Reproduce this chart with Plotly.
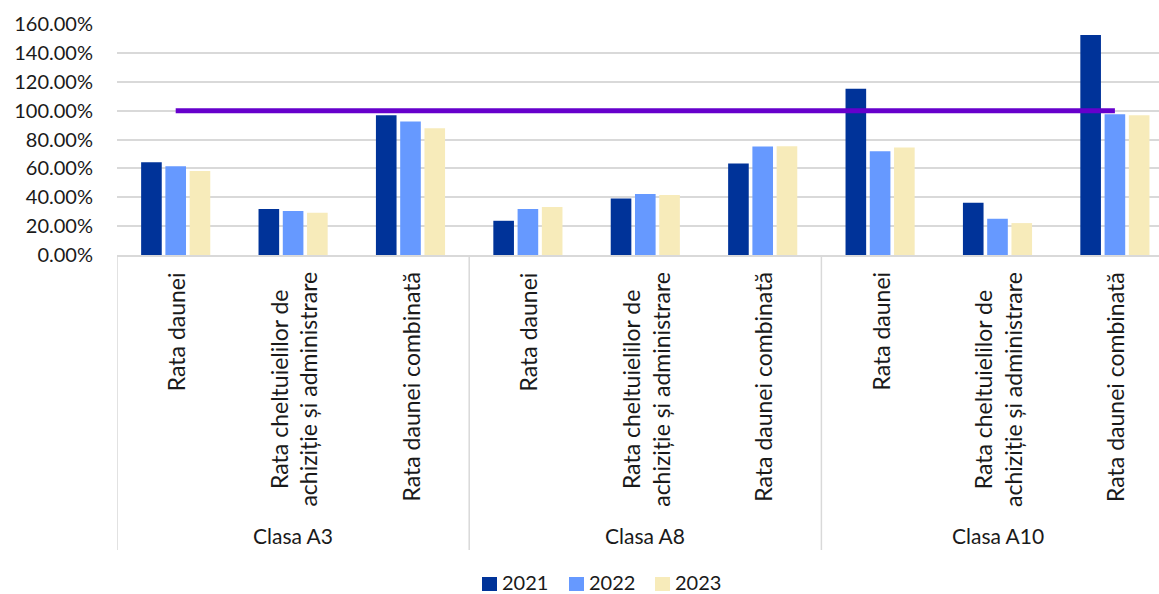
import plotly.graph_objects as go

# --- data -------------------------------------------------------------
grupe = ["Clasa A3", "Clasa A8", "Clasa A10"]
indicatori = [
    "Rata daunei",
    "Rata cheltuielilor de<br>achiziție și administrare",
    "Rata daunei combinată",
]
ani = ["2021", "2022", "2023"]

valori_2021 = [0.643, 0.318, 0.968, 0.237, 0.392, 0.634, 1.152, 0.362, 1.523]
valori_2022 = [0.615, 0.304, 0.924, 0.318, 0.422, 0.751, 0.719, 0.251, 0.975]
valori_2023 = [0.581, 0.293, 0.878, 0.332, 0.415, 0.753, 0.744, 0.221, 0.968]
prag_100 = [1.0, 1.0, 1.0, 1.0, 1.0, 1.0, 1.0, 1.0, 1.0]

culori = ["#003399", "#6699FF", "#F7EBBA"]
serii = [valori_2021, valori_2022, valori_2023]

# --- layout constants -------------------------------------------------
W, H = 1159, 594
M_L, M_R, M_T, M_B = 117, 0, 24, 339
PLOT_W = W - M_L - M_R
PLOT_H = H - M_T - M_B
FONT = "Lato"
TXT = "#1a1a1a"
GRID = "#D9D9D9"

etichete = [(g, ind) for g in grupe for ind in indicatori]
poz = list(range(len(etichete)))

fig = go.Figure()

for an, val, cul in zip(ani, serii, culori):
    fig.add_trace(go.Bar(
        x=poz, y=val, name=an,
        marker=dict(color=cul, line=dict(width=0)),
        showlegend=False,
        hovertemplate=an + ": %{y:.2%}<extra></extra>",
    ))

fig.add_trace(go.Scatter(
    x=poz, y=prag_100, mode="lines",
    line=dict(color="#6600CC", width=5),
    showlegend=False, hoverinfo="skip",
))


def px_to_paper_y(py):
    return (M_T + PLOT_H - py) / PLOT_H


def px_to_paper_x(px):
    return (px - M_L) / PLOT_W


# rotated category labels and group labels under the axis
anns = []
for i, (g, ind) in enumerate(etichete):
    anns.append(dict(
        x=i, xref="x", y=px_to_paper_y(270), yref="paper",
        text=ind, textangle=-90, showarrow=False,
        xanchor="center", yanchor="top", align="center",
        font=dict(family=FONT, size=23, color=TXT),
    ))
for j, g in enumerate(grupe):
    anns.append(dict(
        x=j * 3 + 1, xref="x", y=px_to_paper_y(535), yref="paper",
        text=g, showarrow=False, xanchor="center", yanchor="middle",
        font=dict(family=FONT, size=21, color=TXT),
    ))

shapes = []
for j in range(len(grupe)):
    xs = j * 3 - 0.5
    shapes.append(dict(
        type="line", xref="x", yref="paper",
        x0=xs, x1=xs, y0=0, y1=px_to_paper_y(550),
        line=dict(color=GRID, width=1.5),
    ))

# legend: coloured squares with year text
leg_sq = [482, 569, 655]
leg_y = 582
for an, cul, sx in zip(ani, culori, leg_sq):
    shapes.append(dict(
        type="rect", xref="paper", yref="paper",
        x0=px_to_paper_x(sx), x1=px_to_paper_x(sx + 15),
        y0=px_to_paper_y(leg_y + 9), y1=px_to_paper_y(leg_y - 5),
        fillcolor=cul, line=dict(width=0),
    ))
    anns.append(dict(
        x=px_to_paper_x(sx + 18), xref="paper",
        y=px_to_paper_y(leg_y), yref="paper",
        text=an, showarrow=False, xanchor="left", yanchor="middle",
        font=dict(family=FONT, size=20, color=TXT),
    ))

fig.update_layout(
    width=W, height=H, autosize=False,
    margin=dict(l=M_L, r=M_R, t=M_T, b=M_B, pad=0),
    paper_bgcolor="white", plot_bgcolor="white",
    barmode="group", bargap=0.38, bargroupgap=0.15,
    annotations=anns, shapes=shapes,
    font=dict(family=FONT, color=TXT),
)
fig.update_xaxes(
    range=[-0.5, -0.5 + PLOT_W / 117.4], showticklabels=False,
    showgrid=False, zeroline=False, showline=True, linecolor=GRID,
    linewidth=1.5, ticks="",
)
fig.update_yaxes(
    range=[0, 1.6], dtick=0.2, tickformat=".2%",
    showgrid=True, gridcolor=GRID, gridwidth=1.5, zeroline=False,
    showline=False, ticks="", ticklabelstandoff=23,
    tickfont=dict(family=FONT, size=20, color=TXT),
)

fig.write_html("out.html")
